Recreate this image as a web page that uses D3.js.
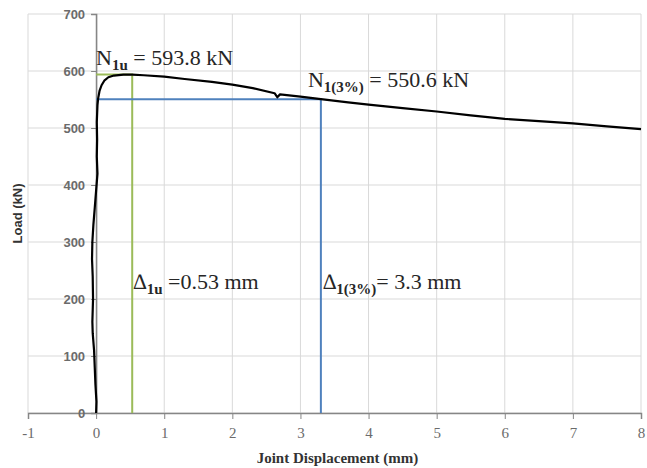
<!DOCTYPE html>
<html>
<head>
<meta charset="utf-8">
<script src="https://cdn.jsdelivr.net/npm/d3@7"></script>
<style>
  body { margin: 0; background: #fff; }
  text { font-family: "Liberation Serif", "DejaVu Serif", serif; }
</style>
</head>
<body>
<div id="chart"></div>
<script>
// load vs joint displacement
const dispData = [0, 0.005, -0.01, -0.02, -0.03, -0.05, -0.055, -0.045, -0.05, -0.06, -0.055, -0.04, -0.02, 0.0, 0.02, 0.01, 0.015, 0.01, 0.02, 0.03, 0.05, 0.08, 0.12, 0.18, 0.26, 0.4, 0.53, 0.7, 1.0, 1.3, 1.7, 2.0, 2.3, 2.62, 2.66, 2.70, 3.0, 3.3, 3.7, 4.0, 4.5, 5.0, 5.5, 6.0, 6.5, 7.0, 7.5, 8.0]
const loadData = [0, 20, 50, 80, 110, 140, 160, 200, 240, 270, 300, 330, 360, 390, 420, 450, 480, 510, 540, 552, 565, 575, 583, 589, 592, 593.5, 593.8, 592.5, 590, 586, 581, 576, 570, 561, 554, 559, 555, 550.6, 545, 541, 535, 529, 522, 516, 512, 508, 503, 498]

const xTicks = [-1, 0, 1, 2, 3, 4, 5, 6, 7, 8]
const yTicks = [0, 100, 200, 300, 400, 500, 600, 700]

const peakDisp = 0.53, peakLoad = 593.8
const d3pDisp = 3.3, d3pLoad = 550.6

const margin = ({ top: 14, right: 6, bottom: 55, left: 28 })
const width = 647 - margin.left - margin.right,
    height = 468 - margin.top - margin.bottom

let svg = d3.select("#chart").append("svg")
    .attr("width", 647)
    .attr("height", 468)
    .append("g")
    .attr("transform", "translate(" + margin.left + "," + margin.top + ")")

let xScale = d3.scaleLinear()
    .domain([-1, 8])
    .range([0, width])

let yScale = d3.scaleLinear()
    .domain([0, 700])
    .range([height, 0])

// gridlines
svg.append("g").selectAll("line.h")
    .data(yTicks)
    .join("line")
    .attr("x1", 0).attr("x2", width)
    .attr("y1", d => yScale(d)).attr("y2", d => yScale(d))
    .attr("stroke", "#d9d9d9")

svg.append("g").selectAll("line.v")
    .data(xTicks)
    .join("line")
    .attr("x1", d => xScale(d)).attr("x2", d => xScale(d))
    .attr("y1", 0).attr("y2", height)
    .attr("stroke", "#d9d9d9")

// axes
let xAxis = d3.axisBottom(xScale)
    .tickValues(xTicks)
    .tickSize(6)
    .tickFormat(d => String(d))

let yAxis = d3.axisLeft(yScale)
    .tickValues(yTicks)
    .tickSize(5)

let gx = svg.append("g")
    .attr("class", "axis x-axis")
    .attr("transform", `translate(0, ${height})`)
    .call(xAxis)

let gy = svg.append("g")
    .attr("class", "axis y-axis")
    .attr("transform", `translate(${xScale(0)}, 0)`)
    .call(yAxis)

gx.select(".domain").attr("stroke", "#868686").attr("stroke-width", 1.5)
gy.select(".domain").attr("stroke", "#868686").attr("stroke-width", 1.5)
gx.selectAll(".tick line").attr("stroke", "#868686")
gy.selectAll(".tick line").attr("stroke", "#868686")
gx.selectAll(".tick text")
    .attr("dy", "1.05em")
    .attr("fill", "#6b6b6b")
    .style("font-family", "Liberation Serif")
    .style("font-size", "15px")
gy.selectAll(".tick text")
    .attr("x", -11)
    .attr("fill", "#6b6b6b")
    .style("font-family", "Liberation Sans")
    .style("font-weight", "bold")
    .style("font-size", "13px")

// reference lines
const green = "#9bbb59", blue = "#4f81bd"
svg.append("path")
    .attr("d", d3.line()([[xScale(0), yScale(peakLoad)], [xScale(peakDisp), yScale(peakLoad)], [xScale(peakDisp), yScale(0)]]))
    .attr("fill", "none").attr("stroke", green).attr("stroke-width", 2)
svg.append("path")
    .attr("d", d3.line()([[xScale(0), yScale(d3pLoad)], [xScale(d3pDisp), yScale(d3pLoad)], [xScale(d3pDisp), yScale(0)]]))
    .attr("fill", "none").attr("stroke", blue).attr("stroke-width", 2)

// curve
let line = d3.line()
    .x((d, i) => xScale(dispData[i]))
    .y(d => yScale(d))

svg.append("path")
    .datum(loadData)
    .attr("d", line)
    .attr("fill", "none")
    .attr("stroke", "#000")
    .attr("stroke-width", 2.2)
    .attr("stroke-linejoin", "round")

// annotations
function label(x, y, main, sub, rest) {
    let t = svg.append("text")
        .attr("x", x).attr("y", y)
        .attr("fill", "#262626")
        .style("font-size", "22px")
    t.append("tspan").text(main)
    t.append("tspan").attr("dy", 5).style("font-size", "15px").style("font-weight", "bold").text(sub)
    t.append("tspan").attr("dy", -5).text(rest)
}
label(xScale(0), yScale(peakLoad) - 10, "N", "1u", " = " + peakLoad.toFixed(1) + " kN")
label(xScale(3.3) - 13, yScale(d3pLoad) - 12, "N", "1(3%)", " = " + d3pLoad.toFixed(1) + " kN")
label(xScale(peakDisp) + 1, yScale(220) + 1, "\u2206", "1u", " =" + peakDisp + " mm")
label(xScale(d3pDisp) + 2, yScale(220) + 1, "\u2206", "1(3%)", "= " + d3pDisp + " mm")

// axis titles
svg.append("text")
    .attr("x", width / 2 + 3)
    .attr("y", height + 50)
    .attr("text-anchor", "middle")
    .style("font-size", "15px")
    .style("font-weight", "bold")
    .attr("fill", "#333")
    .text("Joint Displacement (mm)")

svg.append("text")
    .attr("transform", `translate(${-6}, ${height / 2}) rotate(-90)`)
    .attr("text-anchor", "middle")
    .style("font-family", "Liberation Sans")
    .style("font-size", "13px")
    .style("font-weight", "bold")
    .attr("fill", "#333")
    .text("Load (kN)")
</script>
</body>
</html>
